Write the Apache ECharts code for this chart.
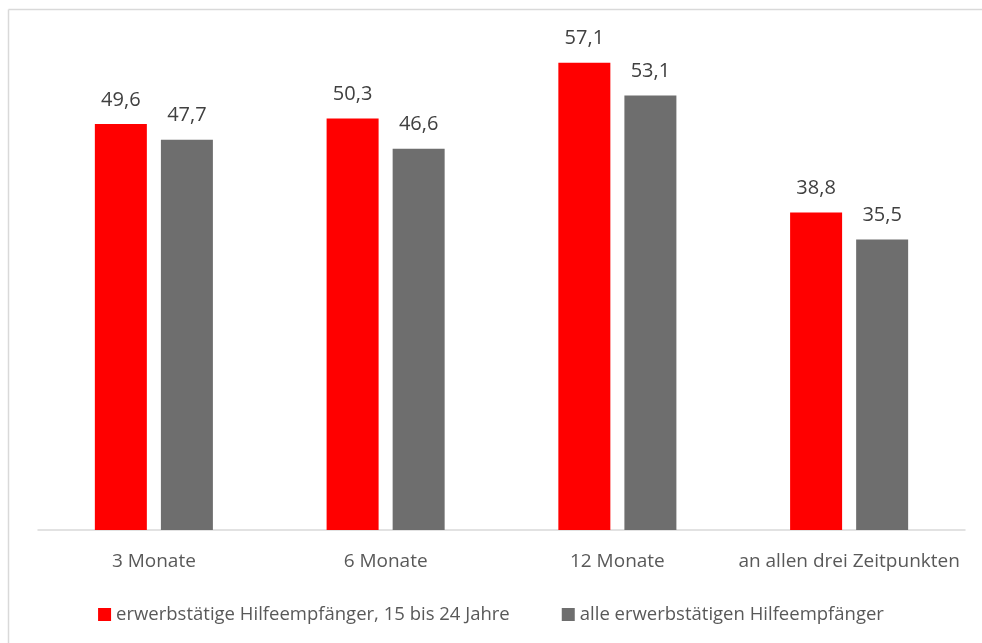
<!DOCTYPE html>
<html>
<head>
<meta charset="utf-8">
<script src="https://cdn.jsdelivr.net/npm/echarts@6/dist/echarts.min.js"></script>
<style>
html,body{margin:0;padding:0;background:#fff;}
#c{width:982px;height:643px;}
</style>
</head>
<body>
<div id="c"></div>
<script>
const categories = ['3 Monate', '6 Monate', '12 Monate', 'an allen drei Zeitpunkten'];
const seriesNames = ['erwerbstätige Hilfeempfänger, 15 bis 24 Jahre', 'alle erwerbstätigen Hilfeempfänger'];
const youngValues = [49.6, 50.3, 57.1, 38.8];
const allValues = [47.7, 46.6, 53.1, 35.5];

const FONT = '"Open Sans", "Noto Sans", sans-serif';
const chart = echarts.init(document.getElementById('c'), null, {renderer: 'canvas'});
const labelFmt = p => String(p.value.toFixed(1)).replace('.', ',');
chart.setOption({
  animation: false,
  backgroundColor: '#fff',
  graphic: [
    {type: 'line', shape: {x1: 8.5, y1: 9.5, x2: 982, y2: 9.5}, style: {stroke: '#d9d9d9', lineWidth: 1.5}},
    {type: 'line', shape: {x1: 8.5, y1: 9.5, x2: 8.5, y2: 643}, style: {stroke: '#d9d9d9', lineWidth: 1.5}}
  ],
  grid: {left: 38, right: 17, top: 39, bottom: 113, containLabel: false},
  legend: {
    top: 600,
    left: 'center',
    itemWidth: 13,
    itemHeight: 13,
    itemGap: 52,
    icon: 'rect',
    textStyle: {fontFamily: FONT, fontSize: 18.5, color: '#595959'},
    data: seriesNames
  },
  xAxis: {
    type: 'category',
    data: categories,
    axisLine: {lineStyle: {color: '#d9d9d9', width: 1.5}},
    axisTick: {show: false},
    axisLabel: {interval: 0, fontFamily: FONT, fontSize: 19, color: '#595959', margin: 22}
  },
  yAxis: {
    type: 'value', min: 0, max: 60, interval: 10,
    show: false,
    splitLine: {show: false}
  },
  series: [
    {
      name: seriesNames[0], type: 'bar', data: youngValues,
      barWidth: 52, barGap: '27%',
      itemStyle: {color: '#ff0000'},
      label: {show: true, position: 'top', distance: 14, formatter: labelFmt, fontFamily: FONT, fontSize: 20, color: '#404040'}
    },
    {
      name: seriesNames[1], type: 'bar', data: allValues,
      barWidth: 52, barGap: '27%',
      itemStyle: {color: '#6e6e6e'},
      label: {show: true, position: 'top', distance: 14, formatter: labelFmt, fontFamily: FONT, fontSize: 20, color: '#404040'}
    }
  ]
});
</script>
</body>
</html>
